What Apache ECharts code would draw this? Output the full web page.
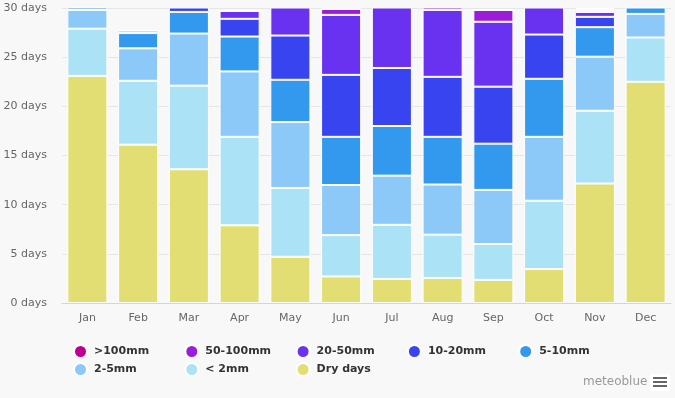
<!DOCTYPE html>
<html>
<head>
<meta charset="utf-8">
<script src="https://cdn.jsdelivr.net/npm/echarts@6/dist/echarts.min.js"></script>
<style>
  html, body { margin: 0; padding: 0; background: #f8f8f8; }
  #chart { width: 675px; height: 398px; }
</style>
</head>
<body>
<div id="chart"></div>
<script>
const months = ["Jan", "Feb", "Mar", "Apr", "May", "Jun", "Jul", "Aug", "Sep", "Oct", "Nov", "Dec"];
const yTicks = [0, 5, 10, 15, 20, 25, 30];

// days per month in each precipitation class
const dryDays = [23.1, 16.1, 13.6, 7.9, 4.7, 2.7, 2.45, 2.55, 2.35, 3.45, 12.15, 22.5];
const under2mm = [4.8, 6.5, 8.5, 9.0, 7.0, 4.2, 5.5, 4.4, 3.65, 6.95, 7.4, 4.5];
const mm2to5 = [1.9, 3.3, 5.3, 6.65, 6.7, 5.1, 5.0, 5.1, 5.5, 6.5, 5.5, 2.4];
const mm5to10 = [1.0, 1.55, 2.2, 3.55, 4.3, 4.9, 5.05, 4.85, 4.7, 5.9, 3.0, 1.3];
const mm10to20 = [0.2, 0.25, 1.1, 1.8, 4.5, 6.3, 5.9, 6.1, 5.8, 4.5, 1.05, 0.3];
const mm20to50 = [0, 0, 0.3, 0.8, 3.6, 6.1, 6.9, 6.8, 6.6, 3.7, 0.5, 0];
const mm50to100 = [0, 0, 0, 0, 0.2, 0.6, 0.2, 1.0, 1.2, 0, 0.2, 0];
const over100mm = [0, 0, 0, 0, 0, 0, 0, 0.2, 0, 0, 0.2, 0];

const classes = [
  { name: "Dry days", data: dryDays, color: "#e2de74" },
  { name: "< 2mm", data: under2mm, color: "#ace2f6" },
  { name: "2-5mm", data: mm2to5, color: "#8cc8f8" },
  { name: "5-10mm", data: mm5to10, color: "#3399ee" },
  { name: "10-20mm", data: mm10to20, color: "#3844f0" },
  { name: "20-50mm", data: mm20to50, color: "#6932f0" },
  { name: "50-100mm", data: mm50to100, color: "#9b1dd9" },
  { name: ">100mm", data: over100mm, color: "#bd0090" },
];
const legendOrder = [">100mm", "50-100mm", "20-50mm", "10-20mm", "5-10mm", "2-5mm", "< 2mm", "Dry days"];

// one legend per entry so the columns line up like the original
const legends = legendOrder.map((name, i) => ({
  data: [name],
  left: 73 + (i % 5) * 111.3,
  top: 344 + Math.floor(i / 5) * 18,
  icon: "circle",
  itemWidth: 13,
  itemHeight: 13,
  padding: 0,
  textStyle: {
    fontSize: 11,
    fontWeight: "bold",
    color: "#333",
    padding: [0, 0, 0, 2],
  },
}));

const chart = echarts.init(document.getElementById("chart"));

const option = {
  backgroundColor: "#f8f8f8",
  animation: false,
  textStyle: { fontFamily: "DejaVu Sans" },
  grid: { left: 62, right: 4, top: 8, bottom: 95 },
  legend: legends,
  xAxis: {
    type: "category",
    data: months,
    axisTick: { show: false },
    axisLine: { lineStyle: { color: "#ccd6eb" } },
    axisLabel: { color: "#666", fontSize: 11, margin: 10 },
  },
  yAxis: {
    type: "value",
    min: yTicks[0],
    max: yTicks[yTicks.length - 1],
    interval: 5,
    axisLabel: { color: "#666", fontSize: 11, formatter: "{value} days", margin: 15 },
    splitLine: { lineStyle: { color: "#e6e6e6" } },
  },
  series: classes.map((c) => ({
    name: c.name,
    type: "bar",
    stack: "days",
    data: c.data,
    barCategoryGap: "21%",
    clip: true,
    itemStyle: { color: c.color, borderColor: "#ffffff", borderWidth: 1 },
  })),
  graphic: [
    {
      type: "text",
      left: 583,
      top: 376,
      style: { text: "meteoblue", fill: "#999", font: "12px DejaVu Sans" },
    },
    { type: "rect", left: 650, top: 374, shape: { width: 20, height: 17 }, style: { fill: "#fff" } },
    { type: "rect", left: 653, top: 377, shape: { width: 14, height: 2 }, style: { fill: "#666" } },
    { type: "rect", left: 653, top: 381, shape: { width: 14, height: 2 }, style: { fill: "#666" } },
    { type: "rect", left: 653, top: 385, shape: { width: 14, height: 2 }, style: { fill: "#666" } },
  ],
};
chart.setOption(option);
</script>
</body>
</html>
